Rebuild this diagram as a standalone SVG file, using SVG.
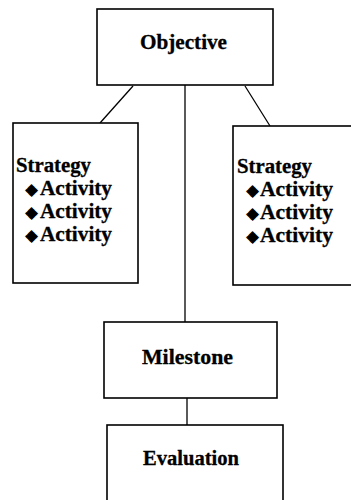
<svg xmlns="http://www.w3.org/2000/svg" width="351" height="500" viewBox="0 0 351 500">
<style>
.box{fill:#fff;stroke:#000;stroke-width:1.6}
.ln{stroke:#000;stroke-width:1.3;fill:none}
.t{font-family:"Liberation Serif","Times New Roman",serif;font-weight:bold;font-size:20px;fill:#000;stroke:#000;stroke-width:0.3}
.d{font-family:"DejaVu Sans",sans-serif;font-size:17px;fill:#000}
</style>
<rect width="351" height="500" fill="#fff"/>
<g id="connectors">
<line class="ln" x1="133" y1="86" x2="100" y2="123"/>
<line class="ln" x1="185" y1="85" x2="185" y2="322"/>
<line class="ln" x1="245" y1="86" x2="270" y2="126"/>
<line class="ln" x1="187" y1="398" x2="187" y2="425"/>
</g>
<g id="objective">
<rect class="box" x="97" y="9" width="176" height="76"/>
<text class="t" x="140" y="49" textLength="87" lengthAdjust="spacingAndGlyphs">Objective</text>
</g>
<g id="strategy-left">
<rect class="box" x="13" y="123" width="125" height="160"/>
<text class="t" x="16" y="172" textLength="75" lengthAdjust="spacingAndGlyphs">Strategy</text>
<text class="d" x="25" y="195">◆</text>
<text class="t" x="40" y="195" textLength="72" lengthAdjust="spacingAndGlyphs">Activity</text>
<text class="d" x="25" y="218">◆</text>
<text class="t" x="40" y="218" textLength="72" lengthAdjust="spacingAndGlyphs">Activity</text>
<text class="d" x="25" y="241">◆</text>
<text class="t" x="40" y="241" textLength="72" lengthAdjust="spacingAndGlyphs">Activity</text>
</g>
<g id="strategy-right">
<rect class="box" x="233" y="126" width="124" height="159"/>
<text class="t" x="237" y="173" textLength="75" lengthAdjust="spacingAndGlyphs">Strategy</text>
<text class="d" x="246" y="196">◆</text>
<text class="t" x="260" y="196" textLength="73" lengthAdjust="spacingAndGlyphs">Activity</text>
<text class="d" x="246" y="219">◆</text>
<text class="t" x="260" y="219" textLength="73" lengthAdjust="spacingAndGlyphs">Activity</text>
<text class="d" x="246" y="242">◆</text>
<text class="t" x="260" y="242" textLength="73" lengthAdjust="spacingAndGlyphs">Activity</text>
</g>
<g id="milestone">
<rect class="box" x="104" y="322" width="173" height="76"/>
<text class="t" x="142" y="364" textLength="91" lengthAdjust="spacingAndGlyphs">Milestone</text>
</g>
<g id="evaluation">
<rect class="box" x="107" y="425" width="176" height="90"/>
<text class="t" x="143" y="465" textLength="96" lengthAdjust="spacingAndGlyphs">Evaluation</text>
</g>
</svg>
